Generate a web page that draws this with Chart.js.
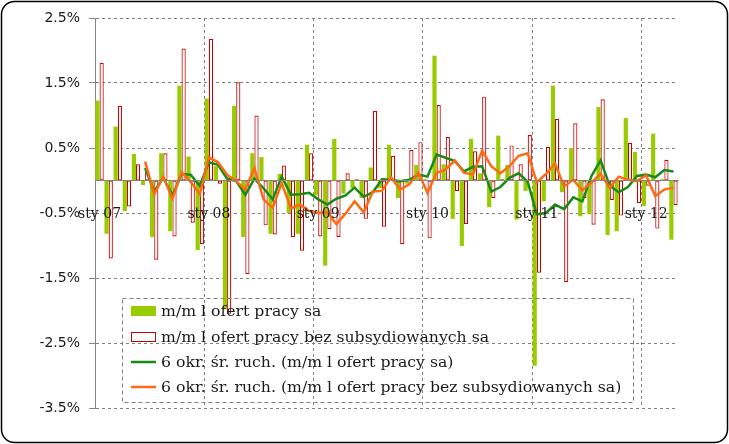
<!DOCTYPE html>
<html>
<head>
<meta charset="utf-8">
<script src="https://cdn.jsdelivr.net/npm/chart.js@4.4.1/dist/chart.umd.min.js"></script>
<style>
    html, body { margin: 0; padding: 0; background: #fff; }
    #wrap { width: 729px; height: 444px; }
</style>
</head>
<body>
<div id="wrap"><canvas id="chart" width="729" height="444"></canvas></div>
<script>
// kategorie: miesiące sty 07 - kwi 12
const miesiace = ['sty', 'lut', 'mar', 'kwi', 'maj', 'cze', 'lip', 'sie', 'wrz', 'paź', 'lis', 'gru'];
const lata = ['07', '08', '09', '10', '11', '12'];
const liczbaMiesiecy = 64;

// m/m l ofert pracy sa (%)
const ofertySa = [
    1.23, -0.82, 0.83, -0.47, 0.41, -0.07, -0.87, 0.42, -0.78, 1.46,
    0.37, -1.07, 1.26, 0.22, -1.98, 1.15, -0.87, 0.42, 0.36, -0.82,
    0.10, -0.50, -0.82, 0.55, -0.23, -1.31, 0.64, -0.20, -0.12, -0.27,
    0.20, -0.12, 0.55, -0.27, -0.05, 0.24, 0.02, 1.92, 0.25, -0.59,
    -1.01, 0.64, 0.11, -0.41, 0.69, 0.24, -0.60, -0.16, -2.85, -0.32,
    1.46, -0.18, 0.50, -0.55, -0.52, 1.13, -0.84, -0.78, 0.96, 0.44,
    -0.39, 0.72, 0.02, -0.91
];

// m/m l ofert pracy bez subsydiowanych sa (%)
const ofertyBezSub = [
    1.81, -1.20, 1.15, -0.40, 0.25, 0.15, -1.22, 0.42, -0.86, 2.03,
    -0.65, -0.98, 2.18, -0.05, -2.05, 1.51, -1.44, 1.00, -0.69, -0.83,
    0.23, -0.87, -1.08, 0.42, -0.86, -0.75, -0.87, 0.11, 0.02, -0.59,
    1.07, -0.71, 0.38, -0.98, 0.47, 0.59, -0.89, 1.16, 0.67, -0.16,
    -0.67, 0.45, 1.29, -0.27, 0.02, 0.54, 0.25, 0.70, -1.42, 0.52,
    0.95, -1.56, 0.88, -0.27, -0.68, 1.25, -0.30, -0.54, 0.58, -0.35,
    -0.08, -0.74, 0.32, -0.38
];

// 6 okr. śr. ruch. (m/m l ofert pracy sa)
const srRuchSa = [
    null, null, null, null, null,
    0.19, -0.17, 0.04, -0.23, 0.10, 0.09, -0.08, 0.28, 0.24, 0.03,
    -0.01, -0.22, 0.03, -0.12, -0.29, 0.06, -0.22, -0.21, -0.19, -0.29,
    -0.37, -0.28, -0.23, -0.11, -0.25, -0.18, 0.02, 0.01, -0.01, 0.01,
    0.09, 0.06, 0.40, 0.35, 0.30, 0.14, 0.21, 0.22, -0.17, -0.10,
    0.04, 0.11, -0.02, -0.52, -0.50, -0.37, -0.44, -0.26, -0.32, 0.07,
    0.31, -0.08, -0.18, -0.10, 0.07, 0.09, 0.05, 0.16, 0.14
];

// 6 okr. śr. ruch. (m/m l ofert pracy bez subsydiowanych sa)
const srRuchBezSub = [
    null, null, null, null, null,
    0.29, -0.21, 0.06, -0.28, 0.13, -0.02, -0.21, 0.36, 0.28, 0.09,
    -0.01, -0.14, 0.19, -0.29, -0.42, -0.04, -0.43, -0.37, -0.47, -0.50,
    -0.49, -0.67, -0.51, -0.32, -0.49, -0.17, -0.16, 0.05, -0.14, -0.06,
    0.12, -0.19, 0.12, 0.17, 0.31, 0.12, 0.09, 0.46, 0.22, 0.11,
    0.22, 0.38, 0.42, -0.03, 0.10, 0.26, -0.09, 0.01, -0.15, -0.03,
    0.10, -0.11, 0.06, 0.01, -0.01, 0.08, -0.24, -0.14, -0.11
];

// oś Y
const yMin = -3.5;
const yMax = 2.5;
const yKrok = 1;

const kategorie = [];
for (let i = 0; i < liczbaMiesiecy; i++) {
    kategorie.push(miesiace[i % 12] + ' ' + lata[Math.floor(i / 12)]);
}

const kolory = {
    zielonySlupek: '#99cc00',
    czerwony: '#c80000',
    zielonaLinia: '#178a17',
    pomaranczowa: '#ff6a10',
    siatka: '#808080',
    os: '#868686',
    tekst: '#1a1a1a'
};

// ramka wykresu z zaokrąglonymi rogami
const ramka = {
    id: 'ramka',
    beforeDraw(chart) {
        const ctx = chart.ctx;
        ctx.save();
        ctx.fillStyle = '#fff';
        ctx.fillRect(0, 0, chart.width, chart.height);
        ctx.beginPath();
        ctx.roundRect(1.5, 1.5, chart.width - 3, chart.height - 3, 13);
        ctx.lineWidth = 1.5;
        ctx.strokeStyle = '#000';
        ctx.stroke();
        ctx.restore();
    }
};

// legenda w obszarze wykresu
const legenda = {
    id: 'legenda',
    afterDraw(chart) {
        const ctx = chart.ctx;
        const zestawy = chart.data.datasets;
        const x0 = 122.5, y0 = 298.5, w = 511, h = 104;
        const wiersze = [311, 337, 362, 387];

        ctx.save();
        ctx.setLineDash([4, 3]);
        ctx.lineWidth = 1;
        ctx.strokeStyle = kolory.siatka;
        ctx.strokeRect(x0, y0, w, h);
        ctx.setLineDash([]);

        zestawy.forEach((ds, i) => {
            const y = wiersze[i];
            if (ds.type === 'line') {
                ctx.beginPath();
                ctx.moveTo(131, y);
                ctx.lineTo(156, y);
                ctx.lineWidth = 2.5;
                ctx.strokeStyle = ds.borderColor;
                ctx.stroke();
            } else if (ds.borderWidth > 0) {
                ctx.fillStyle = '#fff';
                ctx.fillRect(131, y - 5, 25, 10);
                ctx.lineWidth = 1;
                ctx.strokeStyle = ds.borderColor;
                ctx.strokeRect(131.5, y - 4.5, 24, 9);
            } else {
                ctx.fillStyle = ds.backgroundColor;
                ctx.fillRect(131, y - 5, 25, 10);
            }
            ctx.fillStyle = kolory.tekst;
            ctx.font = '15.7px "DejaVu Serif"';
            ctx.textBaseline = 'middle';
            ctx.textAlign = 'left';
            ctx.fillText(ds.label, 161, y + 1);
        });
        ctx.restore();
    }
};

new Chart(document.getElementById('chart'), {
    type: 'bar',
    data: {
        labels: kategorie,
        datasets: [
            {
                type: 'bar',
                label: 'm/m l ofert pracy sa',
                data: ofertySa,
                backgroundColor: kolory.zielonySlupek,
                borderWidth: 0,
                categoryPercentage: 0.92,
                barPercentage: 1,
                order: 3
            },
            {
                type: 'bar',
                label: 'm/m l ofert pracy bez subsydiowanych sa',
                data: ofertyBezSub,
                backgroundColor: '#fff',
                borderColor: kolory.czerwony,
                borderWidth: 1.2,
                borderSkipped: false,
                categoryPercentage: 0.92,
                barPercentage: 1,
                order: 4
            },
            {
                type: 'line',
                label: '6 okr. śr. ruch. (m/m l ofert pracy sa)',
                data: srRuchSa,
                borderColor: kolory.zielonaLinia,
                backgroundColor: kolory.zielonaLinia,
                borderWidth: 2.5,
                pointRadius: 0,
                tension: 0,
                order: 2
            },
            {
                type: 'line',
                label: '6 okr. śr. ruch. (m/m l ofert pracy bez subsydiowanych sa)',
                data: srRuchBezSub,
                borderColor: kolory.pomaranczowa,
                backgroundColor: kolory.pomaranczowa,
                borderWidth: 2.5,
                pointRadius: 0,
                tension: 0,
                order: 1
            }
        ]
    },
    options: {
        responsive: false,
        animation: false,
        layout: {
            padding: { left: 0, top: 18, right: 51, bottom: 36 }
        },
        plugins: {
            legend: { display: false },
            tooltip: { enabled: false }
        },
        scales: {
            x: {
                position: { y: 0 },
                grid: {
                    offset: true,
                    drawTicks: false,
                    color: (ctx) => (ctx.index !== undefined && ctx.index % 12 === 0) ? kolory.siatka : 'rgba(0,0,0,0)',
                    lineWidth: 1
                },
                border: {
                    display: true,
                    color: kolory.os,
                    width: 1,
                    dash: [3, 3],
                    z: 1
                },
                ticks: {
                    z: 2,
                    autoSkip: false,
                    maxRotation: 0,
                    padding: 25,
                    color: kolory.tekst,
                    font: { family: '"DejaVu Serif"', size: 14 },
                    callback: (v, i) => (i % 12 === 0 ? kategorie[i] : '')
                }
            },
            y: {
                min: yMin,
                max: yMax,
                afterFit: (scale) => { scale.width = 95; },
                grid: {
                    color: kolory.siatka,
                    lineWidth: 1,
                    drawTicks: true,
                    tickLength: 6,
                    tickColor: kolory.os,
                    tickBorderDash: []
                },
                border: {
                    display: true,
                    color: kolory.os,
                    width: 1,
                    dash: [3, 3]
                },
                ticks: {
                    stepSize: yKrok,
                    padding: 9,
                    color: kolory.tekst,
                    font: { family: '"DejaVu Sans"', size: 14 },
                    callback: (v) => v.toFixed(1) + '%'
                }
            }
        }
    },
    plugins: [ramka, legenda]
});
</script>
</body>
</html>
